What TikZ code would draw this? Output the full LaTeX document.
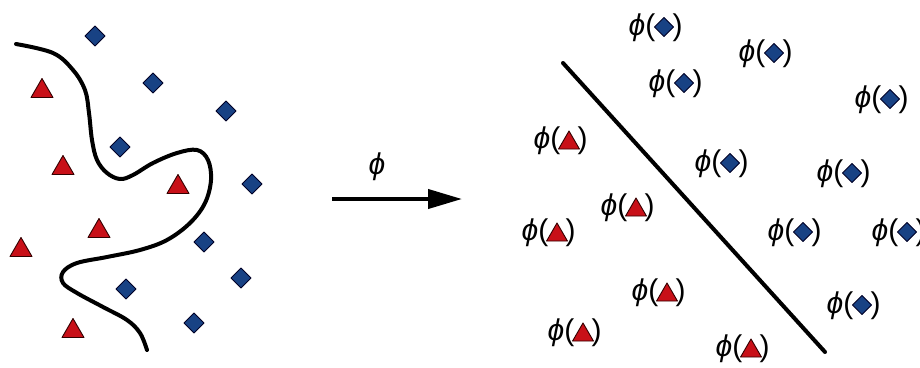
\documentclass[tikz,border=0pt]{standalone}
\usepackage{fontspec}
\setmainfont{Liberation Sans}
\usetikzlibrary{arrows.meta}
\definecolor{tred}{RGB}{200,16,24}
\definecolor{dblue}{RGB}{24,66,132}
\begin{document}
\begin{tikzpicture}[x=1pt,y=-1pt,
  trifill/.style={fill=tred,draw=black!80!red,line width=0.9pt,line join=round},
  diafill/.style={fill=dblue,draw=black!85!blue,line width=0.9pt,line join=round},
  lbl/.style={inner sep=0pt,font=\fontsize{30}{32}\selectfont},
  % bare shapes
  tri/.pic={\path[trifill] (-11,9.5) -- (11,9.5) -- (0,-9.5) -- cycle;},
  dia/.pic={\path[diafill] (-10,0) -- (0,-10) -- (10,0) -- (0,10) -- cycle;},
  % phi(shape) labels, origin at the enclosed shape
  phibrackets/.pic={
    \node[lbl,anchor=base east] (-l) at (-8.5,8) {\textit{ϕ}(};
    \node[lbl,anchor=base west] (-r) at (8.5,8) {)};
  },
  ptri/.pic={\pic (-b) {phibrackets}; \pic[scale=0.95] {tri};},
  pdia/.pic={\pic (-b) {phibrackets}; \pic[scale=0.95] {dia};},
  sep/.style={line width=4pt,line cap=round},
]
\clip (0,0) rectangle (920,367);

% input space: classes separated by a curved boundary
\draw[sep] plot[smooth,tension=0.6] coordinates {
  (16,44) (53,53) (73,70) (85,90) (89,113) (92,140) (97,160) (107,173)
  (120,179) (133,175) (153,163) (177,153) (197,150) (208,160) (211,180)
  (205,203) (190,223) (167,240) (140,250) (107,257) (77,263) (63,272)
  (63,283) (77,293) (103,307) (127,320) (140,333) (147,350)};

\foreach \x/\y in {42/88, 63/165, 178/184, 99/228, 21/247, 73/328}
  \pic at (\x,\y) {tri};
\foreach \x/\y in {95/36, 153/83, 226/111, 120/147, 252/184, 204/242,
                   241/278, 126/289, 194/323}
  \pic at (\x,\y) {dia};

% feature map
\coordinate (a0) at (332,199);
\coordinate (a1) at (462,199);
\draw[line width=4pt,-{Triangle[length=34pt,width=19pt]}] (a0) -- (a1);
\node[lbl] (phi) at (377,167) {\textit{ϕ}};

% feature space: classes separated by a straight line
\coordinate (h0) at (563,63);
\coordinate (h1) at (825,352);
\draw[sep] (h0) -- (h1);

\pic (d1) at (664,27) {pdia};
\pic (d2) at (774,53) {pdia};
\pic (d3) at (684,83) {pdia};
\pic (d4) at (890,99) {pdia};
\pic (d5) at (730,163) {pdia};
\pic (d6) at (852,173) {pdia};
\pic (d7) at (803,232) {pdia};
\pic (d8) at (907,232) {pdia};
\pic (d9) at (862,305) {pdia};

\pic (t1) at (569,140) {ptri};
\pic (t2) at (636,207) {ptri};
\pic (t3) at (557,232) {ptri};
\pic (t4) at (667,292) {ptri};
\pic (t5) at (583,332) {ptri};
\pic (t6) at (751,348) {ptri};
\end{tikzpicture}
\end{document}
